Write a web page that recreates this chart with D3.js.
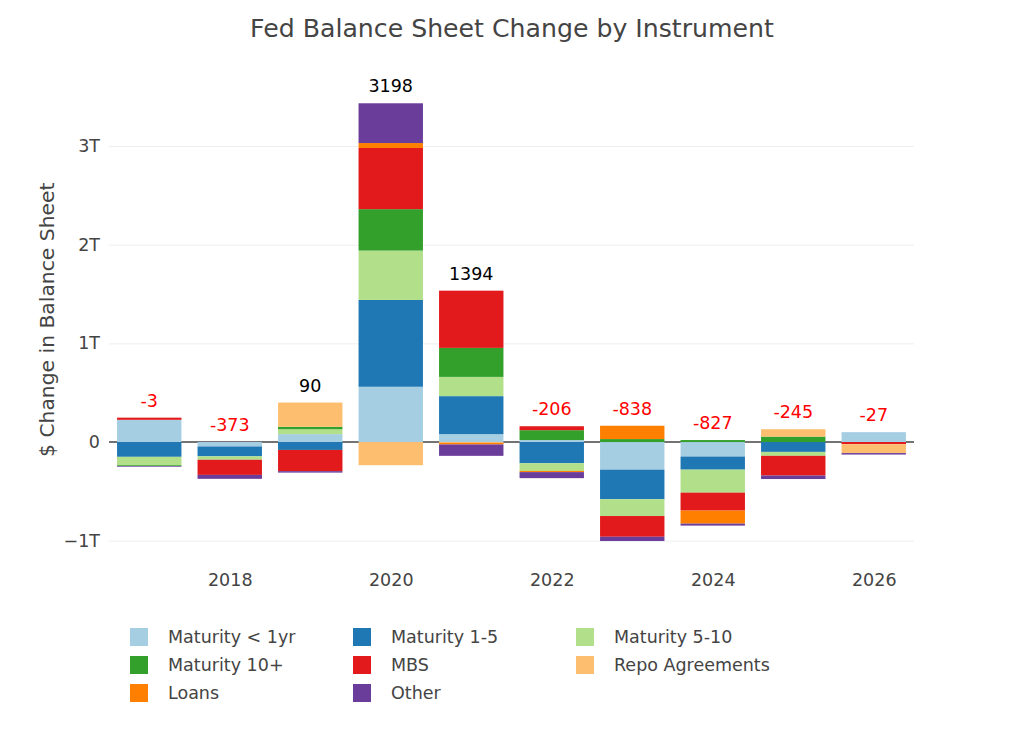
<!DOCTYPE html>
<html>
<head>
<meta charset="utf-8">
<script src="https://cdn.jsdelivr.net/npm/d3@7"></script>
<style>
  html, body { margin: 0; padding: 0; background: #fff; }
  svg { display: block; font-family: "DejaVu Sans", Verdana, sans-serif; }
</style>
</head>
<body>
<svg id="chart" width="1024" height="732"></svg>
<script>
// ---- data (billions of dollars) ----
const years = [2017, 2018, 2019, 2020, 2021, 2022, 2023, 2024, 2025, 2026];
const seriesNames = ["Maturity < 1yr", "Maturity 1-5", "Maturity 5-10", "Maturity 10+", "MBS", "Repo Agreements", "Loans", "Other"];
const seriesColors = ["#a6cee3", "#1f78b4", "#b2df8a", "#33a02c", "#e31a1c", "#fdbf6f", "#ff7f00", "#6a3d9a"];
const maturityLt1   = [225,  -45,   80,  560,   80,   20, -280, -147,    0,  100];
const maturity1to5  = [-150, -100,  -80,  880,  385, -215, -300, -133, -100,    0];
const maturity5to10 = [-85,  -35,   50,  500,  195,  -78, -170, -233,  -40,    0];
const maturity10p   = [-8,     0,   25,  420,  294,  100,   30,   20,   55,    0];
const mbs           = [22,  -153, -215,  620,  580,   40, -210, -182, -200,  -22];
const repo          = [0,      0,  245, -235,  -10,    0,    0,    0,   75,  -90];
const loans         = [0,      0,    0,   50,  -15,  -12,  135, -132,    0,    0];
const other         = [-7,   -40,  -15,  403, -115,  -61,  -43,  -20,  -35,  -15];
const yTickValues = [-1000, 0, 1000, 2000, 3000];
const yTickLabels = ["\u22121T", "0", "1T", "2T", "3T"];
const xTickValues = [2018, 2020, 2022, 2024, 2026];

const seriesValues = [maturityLt1, maturity1to5, maturity5to10, maturity10p, mbs, repo, loans, other];

// ---- layout ----
const svg = d3.select("#chart");
const plotLeft = 109, plotRight = 914;
const x = d3.scaleLinear().domain([2016.5, 2026.5]).range([plotLeft, plotRight]);
const y = d3.scaleLinear().domain([-1150, 3750]).range([555.5, 72]);
const plotTop = y(3750), plotBottom = y(-1150);

// gridlines
const grid = svg.append("g")
  .attr("transform", `translate(${plotLeft},0)`)
  .call(d3.axisLeft(y).tickValues(yTickValues.filter(v => v !== 0)).tickSize(-(plotRight - plotLeft)).tickFormat(""));
grid.select(".domain").remove();
grid.selectAll("line").attr("stroke", "#eeeeee").attr("stroke-width", 1);

// zero line
svg.append("line")
  .attr("x1", plotLeft).attr("x2", plotRight)
  .attr("y1", y(0)).attr("y2", y(0))
  .attr("stroke", "#444").attr("stroke-width", 1.5);

// y axis labels
const yAxis = svg.append("g")
  .attr("transform", `translate(${plotLeft},0)`)
  .call(d3.axisLeft(y).tickValues(yTickValues).tickSize(0).tickPadding(9)
    .tickFormat((d, i) => yTickLabels[i]));
yAxis.select(".domain").remove();
yAxis.selectAll("text").attr("fill", "#444").style("font-size", "17.5px")
  .style("font-family", "'DejaVu Sans', Verdana, sans-serif");

// x axis labels
const xAxis = svg.append("g")
  .attr("transform", `translate(0,${plotBottom + 18})`)
  .call(d3.axisBottom(x).tickValues(xTickValues).tickSize(0).tickPadding(0).tickFormat(d3.format("d")));
xAxis.select(".domain").remove();
xAxis.selectAll("text").attr("fill", "#444").style("font-size", "17.5px")
  .style("font-family", "'DejaVu Sans', Verdana, sans-serif");

// stacked bars (relative mode: positives up, negatives down)
const barHalf = 0.4;
const posBase = years.map(() => 0);
const negBase = years.map(() => 0);
const barsG = svg.append("g");
seriesValues.forEach((vals, si) => {
  const segs = years.map((yr, i) => {
    const v = vals[i];
    let y0, y1;
    if (v >= 0) { y0 = posBase[i]; y1 = posBase[i] + v; posBase[i] = y1; }
    else { y0 = negBase[i]; y1 = negBase[i] + v; negBase[i] = y1; }
    return { yr, v, y0, y1 };
  }).filter(d => d.v !== 0);
  barsG.selectAll(null).data(segs).enter().append("rect")
    .attr("x", d => x(d.yr - barHalf))
    .attr("width", d => x(d.yr + barHalf) - x(d.yr - barHalf))
    .attr("y", d => y(Math.max(d.y0, d.y1)))
    .attr("height", d => Math.abs(y(d.y0) - y(d.y1)))
    .attr("fill", seriesColors[si]);
});

// total labels
const totals = years.map((yr, i) => ({ yr, total: d3.sum(seriesValues, s => s[i]), topVal: posBase[i] }));
svg.append("g").selectAll("text").data(totals).enter().append("text")
  .attr("x", d => x(d.yr))
  .attr("y", d => y(d.topVal) - 11)
  .attr("text-anchor", "middle")
  .attr("fill", d => d.total < 0 ? "#ff0000" : "#000")
  .style("font-size", "17.5px")
  .text(d => String(Math.round(d.total)));

// title
svg.append("text")
  .attr("x", 512).attr("y", 37)
  .attr("text-anchor", "middle")
  .attr("fill", "#444")
  .style("font-size", "25.2px")
  .text("Fed Balance Sheet Change by Instrument");

// y axis title
svg.append("text")
  .attr("transform", `translate(54,${(plotTop + plotBottom) / 2 + 6}) rotate(-90)`)
  .attr("text-anchor", "middle")
  .attr("fill", "#444")
  .style("font-size", "20.3px")
  .text("$ Change in Balance Sheet");

// legend
const colX = [130, 353, 576];
const rowY = [637, 665, 693];
const legend = svg.append("g");
seriesNames.forEach((name, i) => {
  const cx = colX[i % 3], cy = rowY[Math.floor(i / 3)];
  legend.append("rect")
    .attr("x", cx).attr("y", cy - 9).attr("width", 18).attr("height", 18)
    .attr("fill", seriesColors[i]);
  legend.append("text")
    .attr("x", cx + 38).attr("y", cy + 6)
    .attr("fill", "#444")
    .style("font-size", "17.5px")
    .text(name);
});
</script>
</body>
</html>
